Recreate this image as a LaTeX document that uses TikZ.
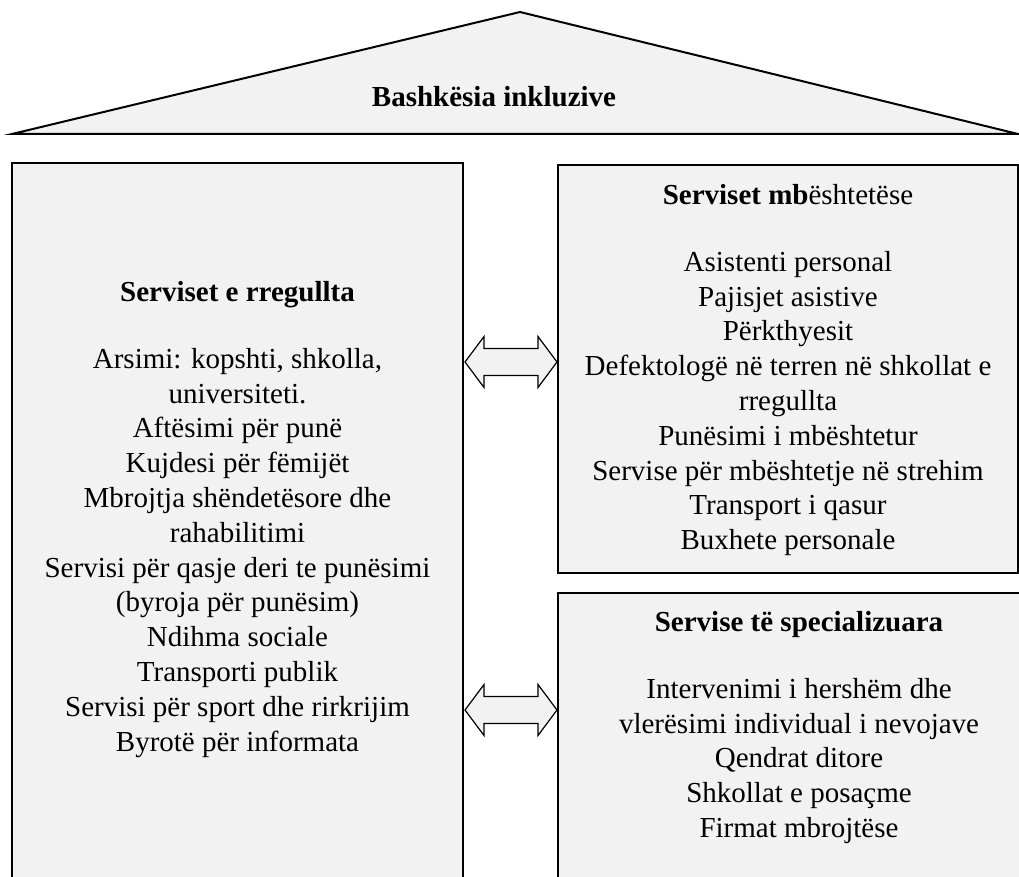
\documentclass[tikz,border=0pt]{standalone}
\usepackage{fontspec}
\setmainfont{Liberation Serif}
\usetikzlibrary{positioning}
\definecolor{panel}{HTML}{F2F2F2}

\begin{document}
\begin{tikzpicture}[
x=1pt,
y=-1pt,
box/.style={
  draw,
  fill=panel,
  line width=2pt,
  rectangle,
  inner sep=0pt
  },
txt/.style={
  align=center,
  inner sep=0pt,
  font=\fontsize{29}{34.8}\selectfont
  },
roof/.style={
  draw,
  fill=panel,
  line width=2pt,
  line join=miter
  },
twoway/.pic={
  \draw[fill=panel, line width=1.2pt, line join=miter]
    (0,0) -- (19,-25.5) -- (19,-13.5) -- (73,-13.5) -- (73,-25.5)
    -- (92,0) -- (73,25.5) -- (73,13.5) -- (19,13.5) -- (19,25.5) -- cycle;
  }
]
\useasboundingbox (0,0) rectangle (1019,877);
\clip (0,0) rectangle (1019,877);

% roof
\draw[roof] (12,134) -- (520,12) -- (1018,134) -- cycle;
\node[txt] (title) at (494,97) {\textbf{Bashkësia inkluzive}};

% boxes
\node[box, minimum width=451pt, minimum height=737pt] (regular) at (237.5,531.5) {};
\node[box, minimum width=460pt, minimum height=408pt] (support) at (788,369) {};
\node[box, minimum width=482pt, minimum height=307pt] (special) at (799,746.5) {};

\node[txt, below=119pt of regular.north] (regular-text) {
  \textbf{Serviset e rregullta}\\[32.2pt]
  Arsimi: kopshti, shkolla,\\
  universiteti.\\
  Aftësimi për punë\\
  Kujdesi për fëmijët\\
  Mbrojtja shëndetësore dhe\\
  rahabilitimi\\
  Servisi për qasje deri te punësimi\\
  (byroja për punësim)\\
  Ndihma sociale\\
  Transporti publik\\
  Servisi për sport dhe rirkrijim\\
  Byrotë për informata};
\node[txt, below=20pt of support.north] (support-text) {
  \textbf{Serviset mb}ështetëse\\[32.2pt]
  Asistenti personal\\
  Pajisjet asistive\\
  Përkthyesit\\
  Defektologë në terren në shkollat e\\
  rregullta\\
  Punësimi i mbështetur\\
  Servise për mbështetje në strehim\\
  Transport i qasur\\
  Buxhete personale};
\node[txt, below=19pt of special.north] (special-text) {
  \textbf{Servise të specializuara}\\[32.2pt]
  Intervenimi i hershëm dhe\\
  vlerësimi individual i nevojave\\
  Qendrat ditore\\
  Shkollat e posaçme\\
  Firmat mbrojtëse};

% two-way links
\coordinate (upper) at (0,362);
\coordinate (lower) at (0,710);
\path ([xshift=1pt]regular.east |- upper) pic {twoway};
\path ([xshift=1pt]regular.east |- lower) pic {twoway};

\end{tikzpicture}
\end{document}
